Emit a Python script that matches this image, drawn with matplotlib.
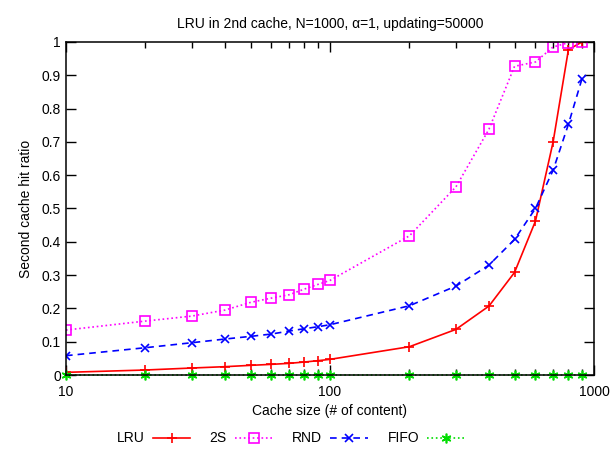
import matplotlib
matplotlib.use('Agg')
import matplotlib.pyplot as plt
from matplotlib.ticker import LogLocator, NullFormatter, FixedLocator

plt.rcParams['font.family'] = ['Liberation Sans', 'DejaVu Sans']
plt.rcParams['font.size'] = 10

# data
cache_size = [10, 20, 30, 40, 50, 60, 70, 80, 90, 100, 200, 300, 400, 500, 600, 700, 800, 900]
lru = [0.008, 0.015, 0.021, 0.025, 0.029, 0.032, 0.035, 0.039, 0.043, 0.047,
       0.085, 0.137, 0.207, 0.308, 0.462, 0.700, 0.977, 1.0]
two_s = [0.135, 0.162, 0.177, 0.195, 0.218, 0.231, 0.241, 0.258, 0.272, 0.284,
         0.418, 0.565, 0.738, 0.927, 0.940, 0.985, 0.998, 1.0]
rnd = [0.058, 0.082, 0.097, 0.108, 0.116, 0.123, 0.132, 0.139, 0.145, 0.151,
       0.208, 0.267, 0.330, 0.407, 0.500, 0.615, 0.753, 0.889]
fifo = [0.0] * len(cache_size)

fig = plt.figure(figsize=(6.12, 4.51), dpi=100)
ax = fig.add_axes([0.1078, 0.1685, 0.8628, 0.7384])

ax.plot(cache_size, lru, color='#ff0000', linestyle='-', marker='+', markersize=7,
        markeredgewidth=1.2, linewidth=1.2, label='LRU')
ax.plot(cache_size, two_s, color='#ff00ff', linestyle=':', marker='s', markersize=6.5,
        markerfacecolor='none', markeredgewidth=1.2, linewidth=1.2, label='2S')
ax.plot(cache_size, rnd, color='#0000ff', linestyle=(0, (4, 3)), marker='x', markersize=6,
        markeredgewidth=1.2, linewidth=1.2, label='RND')
ax.plot(cache_size, fifo, color='#00dd00', linestyle=':', marker=(6, 2, 0), markersize=7,
        markeredgewidth=1.2, linewidth=1.2, label='FIFO', clip_on=False)

ax.set_xscale('log')
ax.set_xlim(10, 1000)
ax.set_ylim(0, 1)
ax.xaxis.set_major_locator(FixedLocator([10, 100, 1000]))
ax.xaxis.set_major_formatter(matplotlib.ticker.FixedFormatter(['10', '100', '1000']))
ax.xaxis.set_minor_locator(LogLocator(base=10, subs=range(2, 10)))
ax.xaxis.set_minor_formatter(NullFormatter())
ax.set_yticks([i / 10 for i in range(11)])
ax.set_yticklabels(['0', '0.1', '0.2', '0.3', '0.4', '0.5', '0.6', '0.7', '0.8', '0.9', '1'])

ax.tick_params(which='both', direction='in', top=True, right=True, labelsize=10)
ax.tick_params(which='major', length=7, width=1)
ax.tick_params(which='minor', length=4, width=1)
ax.tick_params(axis='x', pad=7)
for s in ax.spines.values():
    s.set_linewidth(1.1)

ax.set_title('LRU in 2nd cache, N=1000, α=1, updating=50000', fontsize=10, pad=10)
ax.set_xlabel('Cache size (# of content)', fontsize=10, labelpad=4)
ax.set_ylabel('Second cache hit ratio', fontsize=10, labelpad=6)

fig.legend(loc='center', bbox_to_anchor=(0.475, 0.028), ncol=4, frameon=False,
           markerfirst=False, handlelength=2.7, columnspacing=1.4, handletextpad=0.6,
           fontsize=10)

fig.savefig('out.png', dpi=100)
